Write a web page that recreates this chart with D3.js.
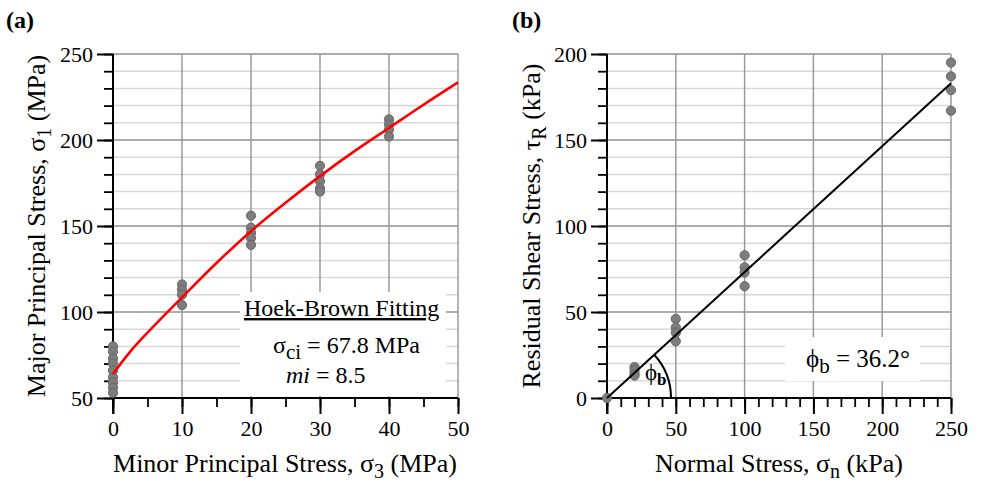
<!DOCTYPE html>
<html>
<head>
<meta charset="utf-8">
<script src="https://cdn.jsdelivr.net/npm/d3@7"></script>
<style>
  body { margin: 0; background: #fff; }
  svg { display: block; font-family: "Liberation Serif", "Times New Roman", serif; }
</style>
</head>
<body>
<svg id="chart" width="982" height="483"></svg>
<script>
// panel (a) data - triaxial tests
const sigma3 = [0, 10, 20, 30, 40];
const sigma1 = [
  [80, 77, 73, 70, 66, 62, 59, 56, 53],
  [116, 113, 110, 104],
  [156, 149, 146, 143, 139],
  [185, 180, 176, 172, 170],
  [212, 209, 206, 202]
];
// Hoek-Brown fit curve
const fitS3 = [0, 2.5, 5, 10, 15, 20, 25, 30, 35, 40, 45, 50];
const fitS1 = [64, 77, 88, 108.5, 128.5, 147, 163.5, 179, 193.5, 207, 220.5, 233.5];

// panel (b) data - residual shear
const sigmaN = [0, 20, 50, 100, 250];
const tauR = [
  [0],
  [18, 16, 14, 13],
  [46, 41, 38, 33],
  [83, 76, 73, 65],
  [195, 187, 179, 167]
];
const lineN = [0, 250];
const lineTau = [0, 183];

const xTicksA = [0, 10, 20, 30, 40, 50];
const yTicksA = [50, 100, 150, 200, 250];
const xTicksB = [0, 50, 100, 150, 200, 250];
const yTicksB = [0, 50, 100, 150, 200];

const svg = d3.select("#chart");
const majorCol = "#9a9a9a", minorCol = "#d8d8d8";

function panel(opt) {
  const g = svg.append("g");
  const x = d3.scaleLinear().domain(opt.xDom).range([opt.left, opt.right]);
  const y = d3.scaleLinear().domain(opt.yDom).range([opt.bottom, opt.top]);

  // horizontal minor grid
  g.selectAll(".hmin").data(d3.range(opt.yDom[0], opt.yDom[1] + 1, opt.yMinor))
    .enter().append("line")
    .attr("x1", opt.left).attr("x2", opt.right)
    .attr("y1", d => y(d)).attr("y2", d => y(d))
    .attr("stroke", minorCol).attr("stroke-width", 1.5);
  // vertical major grid
  g.selectAll(".vmaj").data(opt.xGrid).enter().append("line")
    .attr("x1", d => x(d)).attr("x2", d => x(d))
    .attr("y1", opt.top).attr("y2", opt.bottom)
    .attr("stroke", majorCol).attr("stroke-width", 1.5);
  // horizontal major grid
  g.selectAll(".hmaj").data(opt.yTicks).enter().append("line")
    .attr("x1", opt.left).attr("x2", opt.right)
    .attr("y1", d => y(d)).attr("y2", d => y(d))
    .attr("stroke", majorCol).attr("stroke-width", 1.5);

  // axes
  const xa = g.append("g").attr("transform", `translate(0,${opt.bottom})`)
    .call(d3.axisBottom(x).tickValues(d3.range(opt.xDom[0], opt.xDom[1] + 0.01, opt.xMinor))
      .tickSize(9).tickFormat(""));
  xa.selectAll(".tick line").attr("stroke-width", 1.8);
  xa.select(".domain").remove();
  const xa2 = g.append("g").attr("transform", `translate(0,${opt.bottom})`)
    .call(d3.axisBottom(x).tickValues(opt.xTicks).tickSize(16).tickPadding(6));
  xa2.selectAll(".tick line").attr("stroke-width", 2);
  xa2.selectAll("text").attr("font-size", 22).attr("font-family", "Liberation Serif").attr("fill", "#000");
  xa2.select(".domain").remove();

  const ya = g.append("g").attr("transform", `translate(${opt.left},0)`)
    .call(d3.axisLeft(y).tickValues(d3.range(opt.yDom[0], opt.yDom[1] + 1, opt.yMinor))
      .tickSize(9).tickFormat(""));
  ya.selectAll(".tick line").attr("stroke-width", 1.8);
  ya.select(".domain").remove();
  const ya2 = g.append("g").attr("transform", `translate(${opt.left},0)`)
    .call(d3.axisLeft(y).tickValues(opt.yTicks).tickSize(16).tickPadding(4));
  ya2.selectAll(".tick line").attr("stroke-width", 2);
  ya2.selectAll("text").attr("font-size", 22).attr("font-family", "Liberation Serif").attr("fill", "#000");
  ya2.select(".domain").remove();

  g.append("line").attr("x1", opt.left).attr("x2", opt.right)
    .attr("y1", opt.bottom).attr("y2", opt.bottom).attr("stroke", "#000").attr("stroke-width", 2);
  g.append("line").attr("x1", opt.left).attr("x2", opt.left)
    .attr("y1", opt.top).attr("y2", opt.bottom + 16).attr("stroke", "#000").attr("stroke-width", 2);

  return {g, x, y};
}

// ---------- panel (a)
const A = panel({left: 113, right: 458, top: 54, bottom: 398,
  xDom: [0, 50], yDom: [50, 250], xMinor: 5, yMinor: 10,
  xTicks: xTicksA, yTicks: yTicksA, xGrid: xTicksA});

A.g.append("rect").attr("x", 240).attr("y", 292).attr("width", 206).attr("height", 104).attr("fill", "#fff");

const ptsA = [];
sigma3.forEach((s, i) => sigma1[i].forEach(v => ptsA.push([s, v])));
A.g.selectAll(".pa").data(ptsA).enter().append("circle")
  .attr("cx", d => A.x(d[0])).attr("cy", d => A.y(d[1])).attr("r", 4.6)
  .attr("fill", "#7d7d7d").attr("stroke", "#666").attr("stroke-width", 1);

A.g.append("path")
  .datum(fitS3.map((s, i) => [s, fitS1[i]]))
  .attr("d", d3.line().x(d => A.x(d[0])).y(d => A.y(d[1])).curve(d3.curveCatmullRom))
  .attr("fill", "none").attr("stroke", "#ff0000").attr("stroke-width", 2.6);

A.g.append("text").attr("x", 244).attr("y", 316).attr("font-size", 24)
  .attr("text-decoration", "underline").text("Hoek-Brown Fitting");
const t1 = A.g.append("text").attr("x", 273).attr("y", 353).attr("font-size", 24);
t1.append("tspan").text("σ");
t1.append("tspan").attr("dy", 6).attr("font-size", 21).text("ci");
t1.append("tspan").attr("dy", -6).text(" = 67.8 MPa");
const t2 = A.g.append("text").attr("x", 286).attr("y", 383).attr("font-size", 24);
t2.append("tspan").attr("font-style", "italic").text("mi");
t2.append("tspan").text(" = 8.5");

// axis titles (a)
const xtA = svg.append("text").attr("x", 285).attr("y", 472).attr("text-anchor", "middle").attr("font-size", 26);
xtA.append("tspan").text("Minor Principal Stress, σ");
xtA.append("tspan").attr("dy", 6).attr("font-size", 20).text("3");
xtA.append("tspan").attr("dy", -6).text(" (MPa)");
const ytA = svg.append("text").attr("transform", "translate(45,226) rotate(-90)")
  .attr("text-anchor", "middle").attr("font-size", 26);
ytA.append("tspan").text("Major Principal Stress, σ");
ytA.append("tspan").attr("dy", 6).attr("font-size", 20).text("1");
ytA.append("tspan").attr("dy", -6).text(" (MPa)");
svg.append("text").attr("x", 6).attr("y", 28).attr("font-size", 24).attr("font-weight", "bold").text("(a)");

// ---------- panel (b)
const B = panel({left: 607, right: 951, top: 54, bottom: 398,
  xDom: [0, 250], yDom: [0, 200], xMinor: 10, yMinor: 10,
  xTicks: xTicksB, yTicks: yTicksB, xGrid: xTicksB});

B.g.append("rect").attr("x", 785).attr("y", 337).attr("width", 135).attr("height", 44).attr("fill", "#fff");

const ptsB = [];
sigmaN.forEach((s, i) => tauR[i].forEach(v => ptsB.push([s, v])));
B.g.selectAll(".pb").data(ptsB).enter().append("circle")
  .attr("cx", d => B.x(d[0])).attr("cy", d => B.y(d[1])).attr("r", 4.6)
  .attr("fill", "#7d7d7d").attr("stroke", "#666").attr("stroke-width", 1);

B.g.append("path")
  .datum(lineN.map((s, i) => [s, lineTau[i]]))
  .attr("d", d3.line().x(d => B.x(d[0])).y(d => B.y(d[1])))
  .attr("fill", "none").attr("stroke", "#000").attr("stroke-width", 2);

// friction angle arc
const cx = B.x(0), cy = B.y(0);
const theta = Math.atan2(B.y(0) - B.y(lineTau[1]), B.x(lineN[1]) - B.x(0));
const arcP = d3.path();
arcP.arc(cx, cy, 64, -theta, 0);
B.g.append("path").attr("d", arcP.toString()).attr("fill", "none").attr("stroke", "#000").attr("stroke-width", 2);

const pl = B.g.append("text").attr("x", 645).attr("y", 380).attr("font-size", 23);
pl.append("tspan").text("ϕ");
pl.append("tspan").attr("dy", 5).attr("font-size", 17).attr("font-weight", "bold").text("b");

const pb = B.g.append("text").attr("x", 806).attr("y", 367).attr("font-size", 25);
pb.append("tspan").text("ϕ");
pb.append("tspan").attr("dy", 6).attr("font-size", 21).text("b");
pb.append("tspan").attr("dy", -6).text("  = 36.2°");

const xtB = svg.append("text").attr("x", 779).attr("y", 472).attr("text-anchor", "middle").attr("font-size", 26);
xtB.append("tspan").text("Normal Stress, σ");
xtB.append("tspan").attr("dy", 6).attr("font-size", 20).text("n");
xtB.append("tspan").attr("dy", -6).text(" (kPa)");
const ytB = svg.append("text").attr("transform", "translate(540,226) rotate(-90)")
  .attr("text-anchor", "middle").attr("font-size", 26);
ytB.append("tspan").text("Residual Shear Stress, τ");
ytB.append("tspan").attr("dy", 6).attr("font-size", 20).text("R");
ytB.append("tspan").attr("dy", -6).text(" (kPa)");
svg.append("text").attr("x", 512).attr("y", 28).attr("font-size", 24).attr("font-weight", "bold").text("(b)");
</script>
</body>
</html>
